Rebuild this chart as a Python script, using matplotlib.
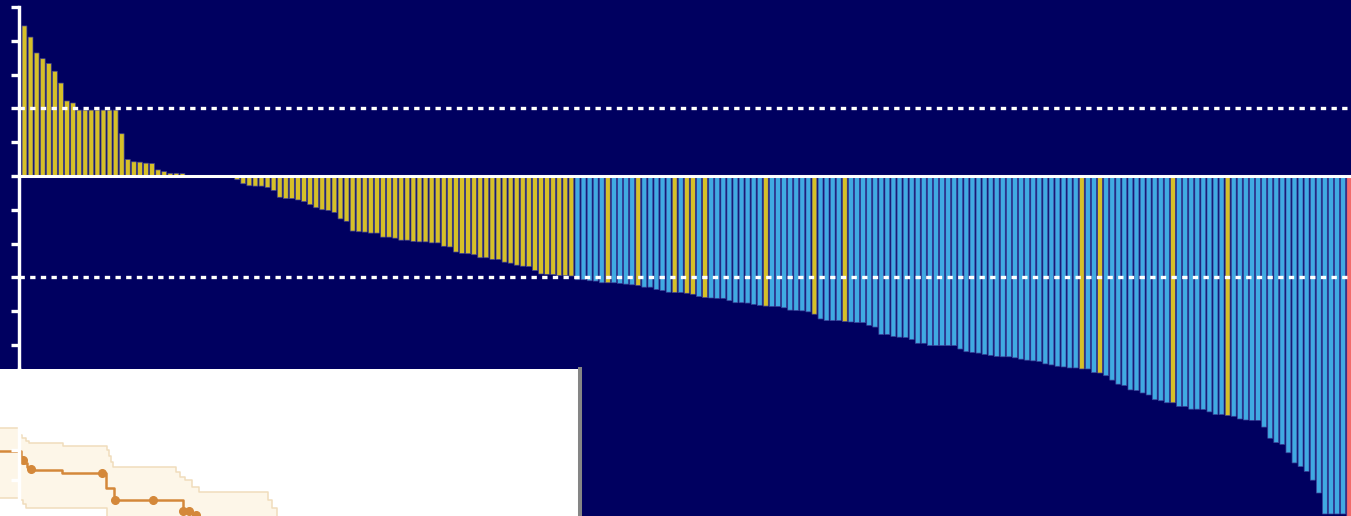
import matplotlib.pyplot as plt
import numpy as np

NAVY = '#000060'
YELLOW = '#D6C028'
BLUE = '#40AAE2'
RED = '#F26B6B'

# best change from baseline (%), one bar per patient, sorted
growth = [44.4, 41.1, 36.4, 34.7, 33.3, 31.0, 27.5, 22.2, 21.6,
          19.5, 19.5, 19.5, 19.5, 19.5, 19.5, 19.5, 12.5,
          4.9, 4.2, 4.1, 3.8, 3.7, 1.8, 1.3, 0.8, 0.8, 0.7]
stable = [0, 0, 0, 0, 0, 0, 0, 0]
shrink_a = [-1.1, -2.3, -2.9, -3.0, -3.0, -3.4, -4.3, -6.3, -6.7, -6.7,
            -7.1, -7.6, -8.5, -9.4, -10.0, -10.2, -10.8, -12.7, -13.4, -16.3,
            -16.5, -16.6, -16.9, -16.9, -18.1, -18.1, -18.4, -19.0, -19.0, -19.4,
            -19.5, -19.5, -19.8, -19.8, -20.8, -21.0, -22.5, -22.9, -23.0, -23.3,
            -24.2, -24.2, -24.7, -24.7, -25.5, -25.8, -26.4, -26.7, -26.8, -28.0,
            -29.0, -29.1, -29.2, -29.5, -29.5, -29.6]
shrink_b = [-30.7, -30.7, -31.0, -31.1, -31.6, -31.6, -31.6, -31.8, -32.0, -32.2,
            -32.4, -32.9, -32.9, -33.6, -33.9, -34.4, -34.5, -34.5, -34.7, -35.0,
            -35.7, -36.0, -36.1, -36.2, -36.2, -36.9, -37.5, -37.5, -37.6, -38.0,
            -38.3, -38.5, -38.6, -38.6, -39.0, -39.7, -39.8, -39.9, -40.2, -40.9,
            -42.3, -42.8, -42.8, -42.8, -43.1, -43.2, -43.4, -43.4, -44.2, -44.7,
            -46.9, -46.9, -47.5, -47.7, -47.8, -48.4, -49.5, -49.5, -50.2, -50.2,
            -50.2, -50.2, -50.2, -51.2, -52.0, -52.2, -52.4, -52.8, -53.1, -53.4,
            -53.5, -53.5, -53.8, -54.2, -54.5, -54.7, -54.9, -55.6, -55.9, -56.3,
            -56.5, -56.8, -56.8, -57.1, -57.1, -58.2, -58.3, -59.1, -60.4, -61.6,
            -62.0, -63.3, -63.5, -64.2, -64.8, -66.2, -66.5, -67.1, -67.1, -68.2,
            -68.2, -69.0, -69.0, -69.1, -69.8, -70.6, -70.6, -70.9, -71.1, -71.9,
            -72.2, -72.3, -72.3, -74.3, -77.6, -78.9, -79.4, -81.9, -84.9, -86.0,
            -87.4, -90.0, -93.8, -100, -100, -100, -100]
last_pt = [-101]

change = growth + stable + shrink_a + shrink_b + last_pt
n = len(change)

# bar numbers (1-based) in the partial-response block that are coloured yellow
yellow_in_b = [97, 102, 108, 110, 111, 113, 123, 131, 136, 175, 178, 190, 199]
n_a = len(growth) + len(stable) + len(shrink_a)

colors = []
for i in range(1, n + 1):
    if i <= n_a or i in yellow_in_b:
        colors.append(YELLOW)
    elif i == n:
        colors.append(RED)
    else:
        colors.append(BLUE)

# Kaplan-Meier inset (time in months, survival %)
km_t = [-1.5, 0.1, 0.25, 0.4, 0.55, 2.15, 4.35, 4.75, 8.2, 8.55, 8.85, 9.5]
km_s = [44.4, 39.5, 36.1, 33.3, 31.6, 29.0, 19.3, 10.9, 3.4, 2.0, -1, -1]
cens_t = [0.18, 0.58, 4.13, 4.77, 6.67, 8.18, 8.5, 8.85]
cens_s = [38.1, 31.8, 29.0, 10.9, 10.9, 3.4, 3.1, 0.7]
ci_up_t = [-0.95, 0.05, 0.15, 0.35, 0.5, 2.2, 4.4, 4.5, 4.6, 4.7, 7.85, 8.05,
           8.3, 8.65, 9.0, 12.45, 12.65, 12.9]
ci_up_s = [60.1, 55.1, 53.1, 51.0, 49.9, 47.8, 44.9, 40.8, 36.7, 33.1, 30.1, 26.7,
           24.5, 19.9, 16.1, 10.9, 5.2, -3]
ci_lo_t = [-0.95, 0.05, 0.2, 0.35, 4.4]
ci_lo_s = [12.2, 10.9, 8.2, 5.2, -3]


def steps(t, s, t_end):
    x = np.append(np.repeat(t, 2)[1:], t_end)
    y = np.repeat(s, 2)
    return x, y


fig = plt.figure(figsize=(13.51, 5.16), dpi=100, facecolor=NAVY)
W, H = 1351, 516

ax = fig.add_axes([19 / W, 0, (W - 19) / W, 509 / H])
ax.set_facecolor(NAVY)
x = np.arange(1, n + 1)
bars = ax.bar(x, change, width=0.8, color=colors, edgecolor='#3a3d96',
              linewidth=0.5, zorder=2)
for b in bars:
    b.set_snap(False)
ax.axhline(0, color='white', lw=2.2, zorder=3)
for lvl in (20, -30):
    ax.axhline(lvl, color='white', lw=2.4, linestyle=(0, (1.6, 1.6)),
               dash_capstyle='butt', zorder=3)

ax.set_xlim(0.095, n + 0.3)
ax.set_ylim(-100.6, 50)
ax.set_yticks(np.arange(-100, 51, 10))
ax.set_xticks([])
ax.tick_params(axis='y', colors='white', length=6, width=2.4, labelleft=False)
for side in ('top', 'right', 'bottom'):
    ax.spines[side].set_visible(False)
ax.spines['left'].set_color('white')
ax.spines['left'].set_linewidth(2.45)

# inset with the survival curve
ins = fig.add_axes([0, 0, 579.7 / W, 147 / H])
ins.set_facecolor('white')
ux, uy = steps(ci_up_t, ci_up_s, 13.0)
lx, ly = steps(ci_lo_t, ci_lo_s, 4.5)
ins.fill(np.concatenate([ux, lx[::-1]]), np.concatenate([uy, ly[::-1]]),
         color='#FDF6E8', lw=0, zorder=1)
ins.plot(ux, uy, color='#F0DDBC', lw=1.1, zorder=1.5)
ins.plot(lx, ly, color='#F0DDBC', lw=1.1, zorder=1.5)
ins.step(km_t, km_s, where='post', color='#D4883A', lw=1.8, zorder=2)
ins.plot(cens_t, cens_s, 'o', ms=5.5, color='#D4883A', zorder=2)

ins.set_xlim(-0.95, 28.0)
ins.set_ylim(0, 100)
ins.set_xticks([])
ins.set_yticks([24.5, 44.9])
ins.set_axisbelow(False)
ins.tick_params(axis='y', colors='white', length=6, width=2.4, labelleft=False)
ins.spines['top'].set_visible(False)
ins.spines['bottom'].set_visible(False)
ins.spines['left'].set_position(('data', 0))
ins.spines['left'].set_color('white')
ins.spines['left'].set_linewidth(2.45)
ins.spines['right'].set_color('#858585')
ins.spines['right'].set_linewidth(2.9)

fig.savefig('out.png', dpi=100, facecolor=NAVY)
